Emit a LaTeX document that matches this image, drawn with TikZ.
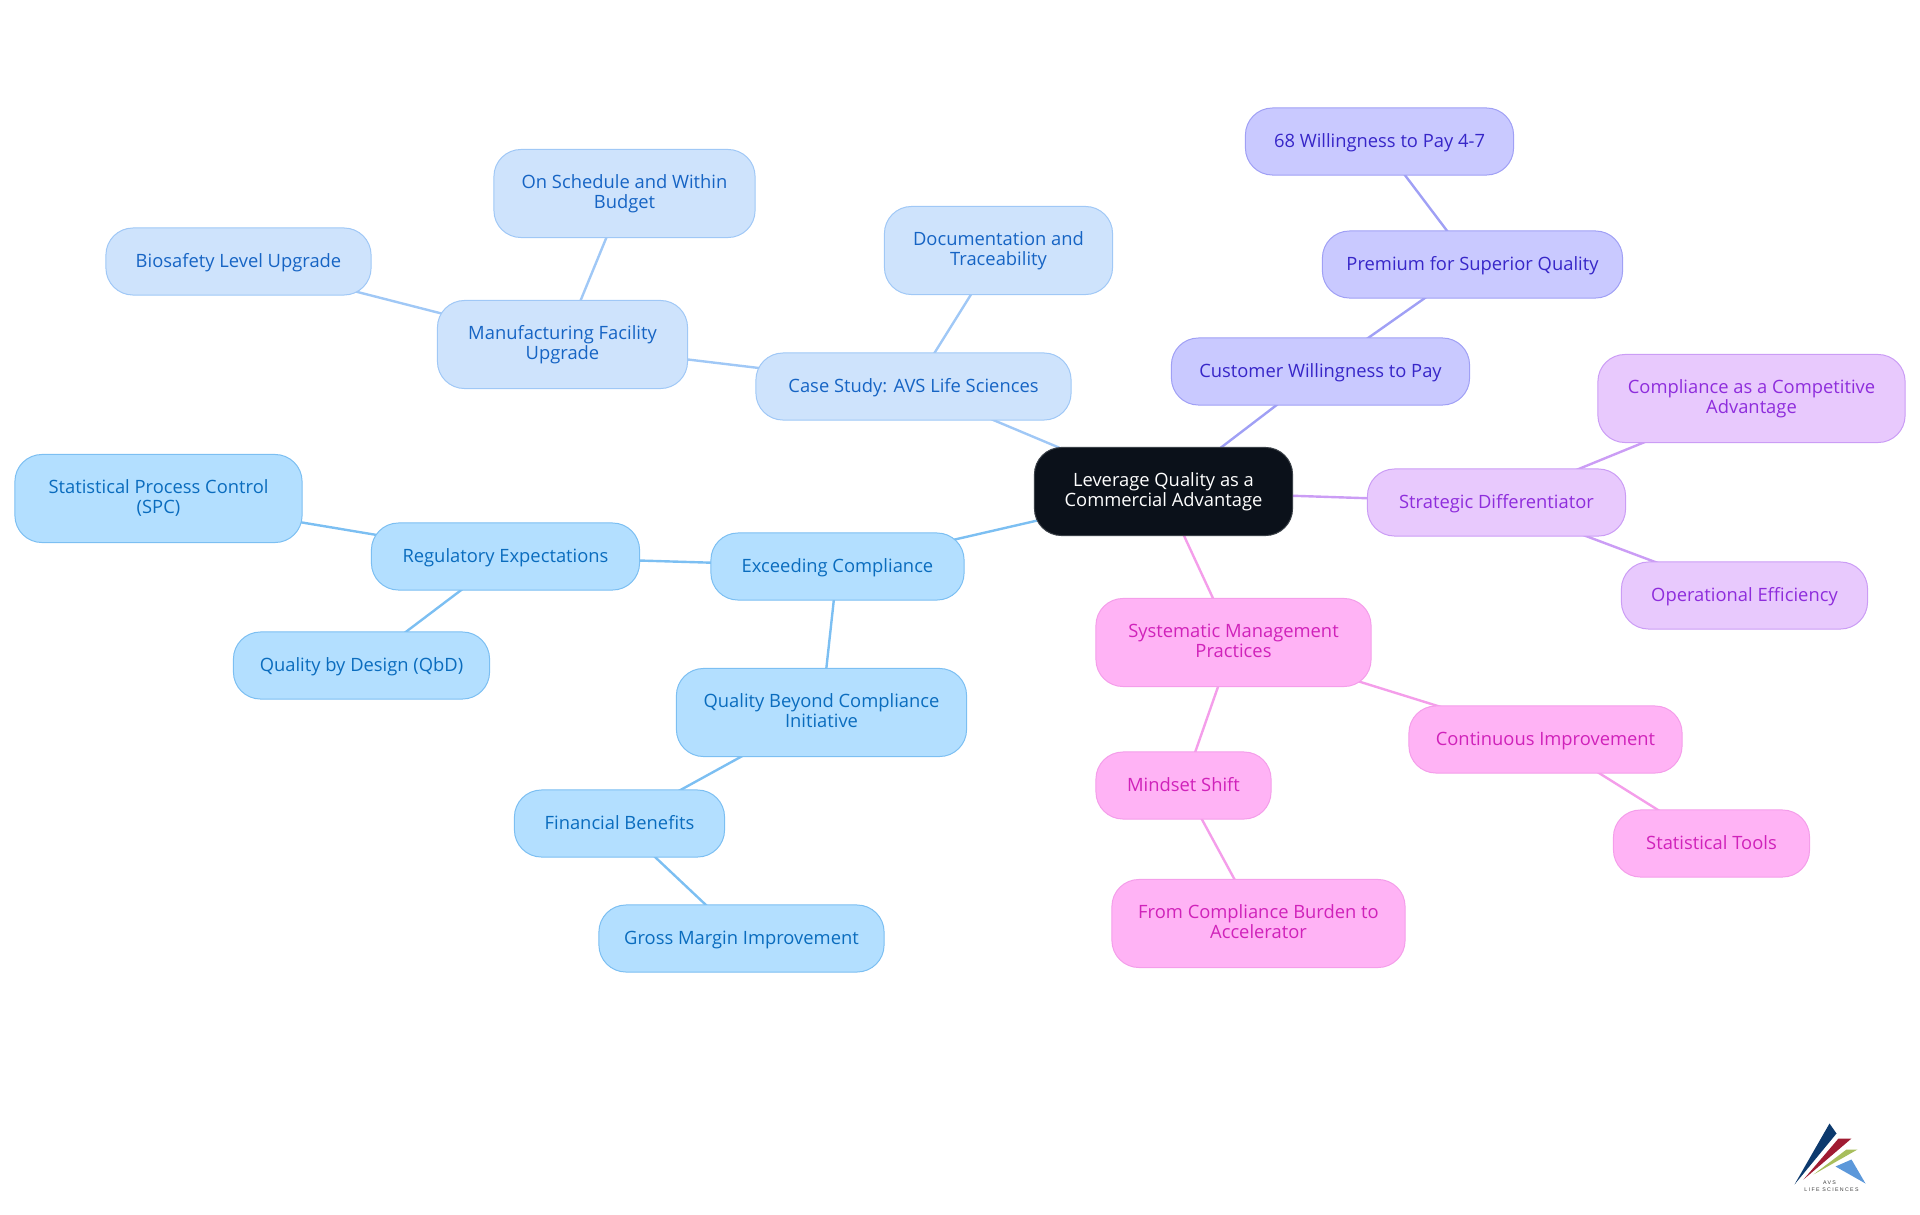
\documentclass[tikz,border=0pt]{standalone}
\usepackage{fontspec}
\setmainfont{Open Sans}
\newfontfamily\logofont[LetterSpace=25]{Liberation Sans}
\usetikzlibrary{backgrounds}

\definecolor{rootfill}{HTML}{0B111A}
\definecolor{rootline}{HTML}{3A4047}
\definecolor{bluefill}{HTML}{B3DFFF}
\definecolor{blueline}{HTML}{7CBFF2}
\definecolor{bluetext}{HTML}{0A6CBE}
\definecolor{casefill}{HTML}{CEE3FC}
\definecolor{caseline}{HTML}{A0C8F6}
\definecolor{casetext}{HTML}{1664C4}
\definecolor{indigofill}{HTML}{C9C9FF}
\definecolor{indigoline}{HTML}{A0A0F5}
\definecolor{indigotext}{HTML}{3726C8}
\definecolor{purplefill}{HTML}{E8C9FD}
\definecolor{purpleline}{HTML}{CB9DF5}
\definecolor{purpletext}{HTML}{8E2DDC}
\definecolor{pinkfill}{HTML}{FFB3F5}
\definecolor{pinkline}{HTML}{F49EEA}
\definecolor{pinktext}{HTML}{D022BA}

\tikzset{
    idea/.style={draw, rounded corners=0.27cm, line width=0.01cm, align=center, inner sep=0pt,
        minimum height=0.67cm, font=\fontsize{5.22}{5.7}\selectfont,
        execute at begin node={\rule{0pt}{4.8pt}}, execute at end node={\rule[-1.2pt]{0pt}{1.2pt}}},
    tall/.style={minimum height=0.88cm, execute at begin node={\rule{0pt}{5.4pt}}},
    rootnode/.style={idea, tall, fill=rootfill, draw=rootline, text=white},
    bluenode/.style={idea, fill=bluefill, draw=blueline, text=bluetext},
    casenode/.style={idea, fill=casefill, draw=caseline, text=casetext},
    indigonode/.style={idea, fill=indigofill, draw=indigoline, text=indigotext},
    purplenode/.style={idea, fill=purplefill, draw=purpleline, text=purpletext},
    pinknode/.style={idea, fill=pinkfill, draw=pinkline, text=pinktext},
    link/.style={line width=0.024cm}
}

\begin{document}
\begin{tikzpicture}[x=0.01cm, y=-0.01cm]

    \useasboundingbox (-0.5,-0.5) rectangle (1919.5,1214.5);

    \node [rootnode, minimum width=2.58cm] (root) at (1163,491) {Leverage Quality as a\\Commercial Advantage};

    % case study
    \node [casenode, minimum width=3.15cm] (caseStudy) at (913,386) {Case Study: AVS Life Sciences};
    \node [casenode, tall, minimum width=2.28cm] (docs) at (998,250) {Documentation and\\Traceability};
    \node [casenode, tall, minimum width=2.50cm] (facility) at (562,344) {Manufacturing Facility\\Upgrade};
    \node [casenode, tall, minimum width=2.61cm] (schedule) at (624,193) {On Schedule and Within\\Budget};
    \node [casenode, minimum width=2.65cm] (biosafety) at (238,261) {Biosafety Level Upgrade};

    % compliance
    \node [bluenode, minimum width=2.53cm] (exceeding) at (837,566) {Exceeding Compliance};
    \node [bluenode, minimum width=2.68cm] (regulatory) at (505,556) {Regulatory Expectations};
    \node [bluenode, tall, minimum width=2.87cm] (spc) at (158,498) {Statistical Process Control\\(SPC)};
    \node [bluenode, minimum width=2.56cm] (qbd) at (361,665) {Quality by Design (QbD)};
    \node [bluenode, tall, minimum width=2.90cm] (beyond) at (821,712) {Quality Beyond Compliance\\Initiative};
    \node [bluenode, minimum width=2.10cm] (financial) at (619,823) {Financial Benefits};
    \node [bluenode, minimum width=2.85cm] (margin) at (741,938) {Gross Margin Improvement};

    % willingness
    \node [indigonode, minimum width=2.98cm] (customer) at (1320,371) {Customer Willingness to Pay};
    \node [indigonode, minimum width=3.00cm] (premium) at (1472,264) {Premium for Superior Quality};
    \node [indigonode, minimum width=2.68cm] (pay) at (1379,141) {68 Willingness to Pay 4-7};

    % differentiator
    \node [purplenode, minimum width=2.58cm] (strategic) at (1496,502) {Strategic Differentiator};
    \node [purplenode, tall, minimum width=3.07cm] (competitive) at (1751,398) {Compliance as a Competitive\\Advantage};
    \node [purplenode, minimum width=2.46cm] (operational) at (1744,595) {Operational Efficiency};

    % management
    \node [pinknode, tall, minimum width=2.75cm] (systematic) at (1233,642) {Systematic Management\\Practices};
    \node [pinknode, minimum width=2.73cm] (continuous) at (1545,739) {Continuous Improvement};
    \node [pinknode, minimum width=1.96cm] (tools) at (1711,843) {Statistical Tools};
    \node [pinknode, minimum width=1.75cm] (mindset) at (1183,785) {Mindset Shift};
    \node [pinknode, tall, minimum width=2.93cm] (burden) at (1258,923) {From Compliance Burden to\\Accelerator};

    \begin{scope}[on background layer]
        \draw [link, draw=caseline] (root.center) -- (caseStudy.center);
        \draw [link, draw=caseline] (caseStudy.center) -- (docs.center);
        \draw [link, draw=caseline] (caseStudy.center) -- (facility.center);
        \draw [link, draw=caseline] (facility.center) -- (schedule.center);
        \draw [link, draw=caseline] (facility.center) -- (biosafety.center);

        \draw [link, draw=blueline] (root.center) -- (exceeding.center);
        \draw [link, draw=blueline] (exceeding.center) -- (regulatory.center);
        \draw [link, draw=blueline] (regulatory.center) -- (spc.center);
        \draw [link, draw=blueline] (regulatory.center) -- (qbd.center);
        \draw [link, draw=blueline] (exceeding.center) -- (beyond.center);
        \draw [link, draw=blueline] (beyond.center) -- (financial.center);
        \draw [link, draw=blueline] (financial.center) -- (margin.center);

        \draw [link, draw=indigoline] (root.center) -- (customer.center);
        \draw [link, draw=indigoline] (customer.center) -- (premium.center);
        \draw [link, draw=indigoline] (premium.center) -- (pay.center);

        \draw [link, draw=purpleline] (root.center) -- (strategic.center);
        \draw [link, draw=purpleline] (strategic.center) -- (competitive.center);
        \draw [link, draw=purpleline] (strategic.center) -- (operational.center);

        \draw [link, draw=pinkline] (root.center) -- (systematic.center);
        \draw [link, draw=pinkline] (systematic.center) -- (continuous.center);
        \draw [link, draw=pinkline] (continuous.center) -- (tools.center);
        \draw [link, draw=pinkline] (systematic.center) -- (mindset.center);
        \draw [link, draw=pinkline] (mindset.center) -- (burden.center);
    \end{scope}

    % logo
    \fill [color={rgb,255:red,13;green,58;blue,110}] (1794,1184) -- (1829,1123) -- (1836,1133) -- cycle;
    \fill [color={rgb,255:red,160;green,28;blue,50}] (1803,1179) -- (1838,1138) -- (1851,1138) -- cycle;
    \fill [color={rgb,255:red,168;green,190;blue,92}] (1813,1174) -- (1846,1149) -- (1857,1149) -- cycle;
    \fill [color={rgb,255:red,92;green,152;blue,218}] (1835,1166) -- (1851,1159) -- (1865,1183) -- cycle;
    \node [font=\logofont\fontsize{1.5}{2}\selectfont, inner sep=0pt, text=black!75] (logoTop) at (1829,1182.5) {AVS};
    \node [font=\logofont\fontsize{1.5}{2}\selectfont, inner sep=0pt, text=black!75] (logoBottom) at (1831,1189) {LIFE SCIENCES};

\end{tikzpicture}
\end{document}
